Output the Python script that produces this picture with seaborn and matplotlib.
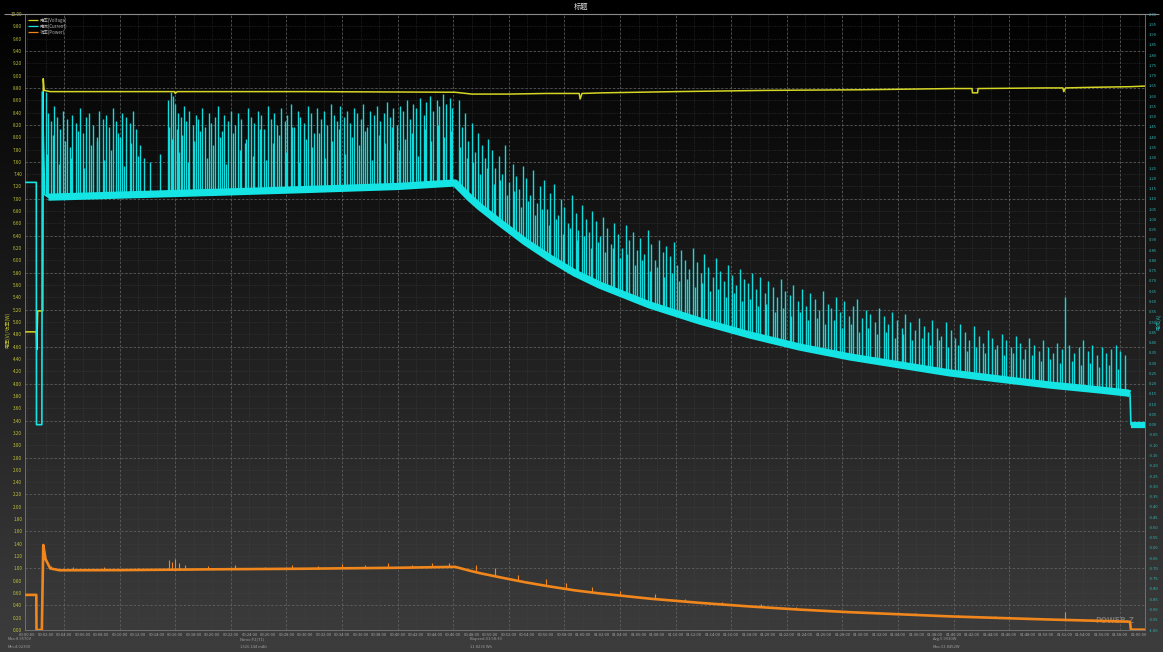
import numpy as np
import pandas as pd
import matplotlib
matplotlib.use("Agg")
import matplotlib.pyplot as plt
from matplotlib.lines import Line2D
from matplotlib.colors import LinearSegmentedColormap
import seaborn as sns

sns.set_theme(style="dark")
plt.rcParams['font.family'] = ['Noto Sans CJK SC', 'DejaVu Sans']
plt.rcParams['lines.solid_capstyle'] = 'butt'

# ---------------- data ----------------
title_text = "标题"
left_axis_label = "电压(V)/功率(W)"
right_axis_label = "电流(A)"
legend_labels = ["电压(Voltage)", "电流(Current)", "功率(Power)"]

# time in minutes
volt_t = [-0.2, 1.0, 1.05, 1.15, 1.70, 1.75, 1.85, 2.5, 10.0, 15.9,
          16.0, 16.2, 30.0, 46.2, 48.0, 52.0, 56.0, 59.6, 59.7, 59.9,
          62.0, 70.0, 80.0, 90.0, 100.0, 102.0, 102.05, 102.6, 102.65, 110.0,
          111.8, 111.9, 112.1, 115.0, 119.1, 120.7]
volt_v = [4.84, 4.84, 4.55, 5.18, 5.18, 8.95, 8.76, 8.74, 8.74, 8.74,
          8.71, 8.74, 8.74, 8.73, 8.70, 8.70, 8.71, 8.71, 8.62, 8.71,
          8.72, 8.74, 8.76, 8.77, 8.79, 8.79, 8.72, 8.72, 8.79, 8.80,
          8.80, 8.74, 8.80, 8.81, 8.82, 8.83]

curr_t = [-0.2, 1.0, 1.02, 1.6, 1.65, 1.9, 2.3, 10.0, 20.0, 30.0,
          40.0, 46.2, 47.8, 48.9, 51.1, 53.8, 56.4, 59.1, 61.8, 67.2,
          72.6, 78.0, 83.4, 88.8, 94.2, 99.6, 105.0, 110.4, 115.8, 118.8,
          119.05, 119.15, 120.7]
curr_a = [1.18, 1.18, 0.0, 0.0, 1.62, 1.12, 1.108, 1.118, 1.131, 1.145,
          1.160, 1.177, 1.104, 1.060, 0.982, 0.890, 0.812, 0.739, 0.680, 0.583,
          0.505, 0.437, 0.378, 0.330, 0.291, 0.252, 0.222, 0.193, 0.169, 0.154,
          0.150, 0.0, 0.0]

power_t = [-0.2, 1.0, 1.02, 1.6, 1.75, 2.0, 2.5, 3.5, 10.0, 20.0,
           30.0, 40.0, 46.2, 47.8, 48.9, 51.1, 53.8, 56.4, 59.1, 61.8,
           67.2, 72.6, 78.0, 83.4, 88.8, 94.2, 99.6, 105.0, 110.4, 115.8,
           118.8, 119.05, 119.15, 120.7]
power_w = [5.70, 5.70, 0.0, 0.0, 13.8, 11.5, 10.0, 9.70, 9.72, 9.85,
           9.95, 10.10, 10.25, 9.62, 9.22, 8.54, 7.74, 7.07, 6.44, 5.94,
           5.09, 4.41, 3.82, 3.31, 2.89, 2.55, 2.21, 1.95, 1.70, 1.48,
           1.36, 1.32, 0.05, 0.05]

# current spikes before the decay (time, peak A)
spike_pre_t = [2.0, 2.3, 2.6, 2.9, 3.2, 3.6, 3.9, 4.3, 4.6, 4.9,
               5.3, 5.7, 6.0, 6.4, 6.7, 7.1, 7.5, 7.8, 8.2, 8.5,
               8.9, 9.3, 9.6, 10.0, 10.3, 10.7, 11.1, 11.4, 11.8, 12.2,
               12.6, 13.3, 14.4, 15.2, 15.5, 15.8, 16.0, 16.3, 16.6, 16.9,
               17.2, 17.5, 17.9, 18.2, 18.5, 18.9, 19.2, 19.6, 19.9, 20.3,
               20.6, 21.0, 21.3, 21.7, 22.0, 22.4, 22.8, 23.1, 23.5, 23.8,
               24.2, 24.5, 24.9, 25.3, 25.6, 26.0, 26.3, 26.7, 27.0, 27.4,
               27.8, 28.1, 28.5, 28.8, 29.2, 29.5, 29.9, 30.3, 30.6, 31.0,
               31.3, 31.7, 32.0, 32.4, 32.8, 33.1, 33.5, 33.8, 34.2, 34.5,
               34.9, 35.3, 35.6, 36.0, 36.3, 36.7, 37.0, 37.4, 37.8, 38.1,
               38.5, 38.8, 39.2, 39.5, 39.9, 40.3, 40.6, 41.0, 41.3, 41.7,
               42.0, 42.4, 42.8, 43.1, 43.5, 43.8, 44.2, 44.5, 44.9, 45.2,
               45.6, 45.9]
spike_pre_a = [1.62, 1.52, 1.48, 1.55, 1.50, 1.44, 1.53, 1.49, 1.35, 1.51,
               1.47, 1.54, 1.42, 1.50, 1.52, 1.46, 1.38, 1.53, 1.49, 1.51,
               1.45, 1.54, 1.48, 1.40, 1.52, 1.50, 1.47, 1.53, 1.44, 1.36,
               1.30, 1.28, 1.32, 1.58, 1.62, 1.60, 1.56, 1.52, 1.50, 1.55,
               1.48, 1.53, 1.46, 1.51, 1.49, 1.54, 1.45, 1.52, 1.47, 1.50,
               1.55, 1.43, 1.51, 1.48, 1.53, 1.46, 1.52, 1.49, 1.37, 1.54,
               1.50, 1.47, 1.53, 1.51, 1.44, 1.55, 1.49, 1.52, 1.46, 1.54,
               1.48, 1.51, 1.56, 1.45, 1.53, 1.50, 1.47, 1.55, 1.52, 1.42,
               1.54, 1.49, 1.53, 1.46, 1.56, 1.51, 1.48, 1.55, 1.50, 1.53,
               1.47, 1.54, 1.52, 1.49, 1.56, 1.45, 1.53, 1.51, 1.55, 1.48,
               1.52, 1.57, 1.50, 1.54, 1.46, 1.55, 1.53, 1.58, 1.49, 1.56,
               1.54, 1.59, 1.51, 1.57, 1.60, 1.53, 1.58, 1.55, 1.61, 1.56,
               1.59, 1.54]
# shorter in-between spikes before the decay
spike_pre2_t = [2.15, 2.75, 3.4, 4.1, 4.75, 5.5, 6.2, 6.9, 7.6, 8.35,
                9.1, 9.8, 10.5, 11.25, 12.0, 15.35, 15.65, 16.15, 16.45, 16.75,
                17.35, 18.05, 18.7, 19.4, 20.1, 20.8, 21.5, 22.2, 22.95, 23.65,
                24.35, 25.1, 25.8, 26.5, 27.2, 27.95, 28.65, 29.35, 30.1, 30.8,
                31.5, 32.2, 32.95, 33.65, 34.35, 35.1, 35.8, 36.5, 37.2, 37.95,
                38.65, 39.35, 40.1, 40.8, 41.5, 42.2, 42.95, 43.65, 44.35, 45.05,
                45.75]
spike_pre2_a = [1.32, 1.41, 1.27, 1.38, 1.30, 1.43, 1.25, 1.36, 1.40, 1.29,
                1.34, 1.42, 1.26, 1.37, 1.31, 1.45, 1.39, 1.44, 1.33, 1.41,
                1.28, 1.38, 1.43, 1.30, 1.36, 1.40, 1.27, 1.42, 1.34, 1.39,
                1.31, 1.44, 1.29, 1.37, 1.41, 1.33, 1.45, 1.28, 1.39, 1.35,
                1.42, 1.30, 1.38, 1.44, 1.32, 1.40, 1.36, 1.43, 1.29, 1.41,
                1.37, 1.45, 1.34, 1.39, 1.42, 1.31, 1.44, 1.38, 1.46, 1.40,
                1.43]

# current spikes during the decay (time, peak A)
spike_post_t = [46.6, 46.9, 47.3, 47.6, 48.0, 48.3, 48.7, 49.1, 49.4, 49.8,
                50.2, 50.5, 50.9, 51.3, 51.6, 52.0, 52.4, 52.8, 53.1, 53.5,
                53.9, 54.3, 54.6, 55.0, 55.4, 55.8, 56.1, 56.5, 56.9, 57.3,
                57.6, 58.0, 58.4, 58.8, 59.2, 59.5, 59.9, 60.3, 60.7, 61.0,
                61.4, 61.8, 62.2, 62.6, 63.0, 63.4, 63.8, 64.2, 64.6, 65.0,
                65.4, 65.8, 66.2, 66.6, 67.0, 67.4, 67.8, 68.2, 68.6, 69.0,
                69.4, 69.8, 70.2, 70.6, 71.0, 71.4, 71.9, 72.3, 72.7, 73.1,
                73.5, 74.0, 74.4, 74.8, 75.2, 75.7, 76.1, 76.5, 77.0, 77.4,
                77.8, 78.3, 78.7, 79.1, 79.6, 80.0, 80.5, 80.9, 81.4, 81.8,
                82.3, 82.7, 83.2, 83.6, 84.1, 84.5, 85.0, 85.5, 85.9, 86.4,
                86.8, 87.3, 87.8, 88.2, 88.7, 89.2, 89.6, 90.1, 90.6, 91.0,
                91.5, 92.0, 92.5, 92.9, 93.4, 93.9, 94.4, 94.8, 95.3, 95.8,
                96.3, 96.8, 97.2, 97.7, 98.2, 98.7, 99.2, 99.7, 100.2, 100.7,
                101.2, 101.7, 102.2, 102.7, 103.2, 103.7, 104.2, 104.7, 105.2, 105.7,
                106.2, 106.7, 107.2, 107.7, 108.2, 108.7, 109.2, 109.7, 110.2, 110.7,
                111.2, 111.7, 112.0, 112.5, 113.0, 113.5, 114.0, 114.5, 115.0, 115.5,
                116.0, 116.5, 117.0, 117.5, 118.0, 118.5]
spike_post_a = [1.58, 1.45, 1.52, 1.38, 1.47, 1.33, 1.42, 1.36, 1.30, 1.39,
                1.34, 1.25, 1.31, 1.22, 1.36, 1.18, 1.27, 1.21, 1.15, 1.26,
                1.20, 1.12, 1.24, 1.08, 1.16, 1.19, 1.05, 1.13, 1.17, 1.02,
                1.10, 1.06, 0.98, 1.12, 1.03, 0.95, 1.07, 1.00, 0.94, 1.04,
                0.99, 0.92, 1.01, 0.96, 0.88, 0.98, 0.93, 0.86, 0.97, 0.90,
                0.94, 0.85, 0.91, 0.83, 0.95, 0.88, 0.80, 0.90, 0.84, 0.87,
                0.82, 0.89, 0.78, 0.85, 0.80, 0.76, 0.86, 0.79, 0.74, 0.83,
                0.77, 0.72, 0.81, 0.75, 0.70, 0.78, 0.73, 0.68, 0.76, 0.71,
                0.69, 0.74, 0.66, 0.72, 0.64, 0.70, 0.67, 0.62, 0.71, 0.65,
                0.63, 0.68, 0.60, 0.66, 0.58, 0.64, 0.61, 0.56, 0.65, 0.59,
                0.57, 0.62, 0.55, 0.60, 0.53, 0.58, 0.61, 0.52, 0.56, 0.54,
                0.50, 0.57, 0.53, 0.49, 0.55, 0.51, 0.47, 0.54, 0.50, 0.46,
                0.52, 0.48, 0.45, 0.51, 0.47, 0.43, 0.50, 0.46, 0.42, 0.49,
                0.45, 0.41, 0.48, 0.43, 0.40, 0.46, 0.42, 0.39, 0.44, 0.41,
                0.38, 0.43, 0.40, 0.37, 0.42, 0.39, 0.36, 0.41, 0.38, 0.35,
                0.40, 0.37, 0.62, 0.39, 0.35, 0.38, 0.41, 0.36, 0.39, 0.34,
                0.38, 0.35, 0.37, 0.39, 0.36, 0.34]
# shorter in-between spikes during the decay
spike_post2_t = [46.75, 47.45, 48.15, 48.9, 49.6, 50.35, 51.1,
                 51.8, 52.6, 53.3, 54.1, 54.8, 55.6, 56.3, 57.1, 57.8, 58.6,
                 59.35, 60.1, 60.85, 61.6, 62.4, 63.2, 64.0, 64.8, 65.6, 66.4,
                 67.2, 68.0, 68.8, 69.6, 70.4, 71.2, 72.1, 72.9, 73.75, 74.6,
                 75.45, 76.3, 77.2, 78.05, 78.9, 79.8, 80.7, 81.6, 82.5, 83.4,
                 84.3, 85.25, 86.15, 87.05, 88.0, 88.95, 89.85, 90.8, 91.75, 92.7,
                 93.65, 94.6, 95.55, 96.55, 97.45, 98.45, 99.45, 100.45, 101.45, 102.45,
                 103.45, 104.45, 105.45, 106.45, 107.45, 108.45, 109.45, 110.45, 111.45, 112.75,
                 113.75, 114.75, 115.75, 116.75, 117.75]
spike_post2_a = [1.35, 1.30, 1.28, 1.22, 1.25, 1.17, 1.19,
                 1.12, 1.14, 1.06, 1.09, 1.02, 1.05, 0.97, 1.00, 0.93, 0.96,
                 0.90, 0.92, 0.86, 0.89, 0.84, 0.86, 0.81, 0.83, 0.78, 0.80,
                 0.75, 0.77, 0.72, 0.74, 0.70, 0.71, 0.67, 0.69, 0.65, 0.66,
                 0.62, 0.64, 0.60, 0.61, 0.58, 0.59, 0.55, 0.57, 0.53, 0.55,
                 0.51, 0.52, 0.49, 0.51, 0.47, 0.49, 0.45, 0.47, 0.44, 0.45,
                 0.42, 0.44, 0.41, 0.42, 0.39, 0.41, 0.38, 0.39, 0.36, 0.38,
                 0.35, 0.37, 0.34, 0.35, 0.32, 0.34, 0.31, 0.32, 0.30, 0.31,
                 0.29, 0.30, 0.28, 0.29, 0.27]

# power spikes (time, peak W)
pspike_t = [2.6, 5.0, 8.3, 12.0, 15.3, 15.6, 16.0, 16.4, 17.0, 19.5,
            22.5, 25.7, 28.6, 31.4, 34.0, 36.5, 39.0, 41.5, 43.7, 45.5,
            48.5, 50.5, 53.0, 56.0, 58.2, 61.0, 64.0, 67.8, 71.0, 75.0,
            79.2, 83.0, 87.0, 91.5, 95.8, 100.5, 104.5, 108.5, 112.0, 115.0,
            117.8]
pspike_w = [10.4, 10.2, 10.3, 10.1, 11.3, 11.0, 11.5, 10.9, 10.6, 10.4,
            10.5, 10.3, 10.6, 10.4, 10.7, 10.5, 10.8, 10.6, 10.9, 10.8,
            10.6, 10.0, 9.0, 8.3, 7.6, 7.0, 6.3, 5.8, 5.1, 4.6,
            4.2, 3.7, 3.3, 2.9, 2.7, 2.4, 2.2, 2.0, 2.9, 1.8,
            1.7]

x_tick_minutes = list(range(0, 121, 2))
x_tick_labels = ["%02d:%02d:00" % (m // 60, m % 60) for m in x_tick_minutes]
left_ticks = [round(0.2 * i, 2) for i in range(51)]
right_ticks = [round(-1.0 + 0.05 * i, 2) for i in range(61)]

info_texts = [("Max:8.9570V", "Min:4.0230V"),
              ("Name:P2(T1)", "1326.144 mAh"),
              ("Elapsed:01:58:30", "11.8236 Wh"),
              ("Avg:5.9930W", "Max:13.8452W")]

# ---------------- styling ----------------
W, H = 1163, 652
fig = plt.figure(figsize=(W / 100, H / 100), dpi=100)

bg_cmap = LinearSegmentedColormap.from_list("bg", ["#000000", "#141414", "#282828", "#3d3d3d"])
bg = fig.add_axes([0, 0, 1, 1])
bg.imshow(np.linspace(0, 1, 256)[:, None], aspect='auto', cmap=bg_cmap,
          extent=[0, 1, 0, 1], origin='upper')
bg.set_axis_off()
bg.set_zorder(-5)

L, R, T, B = 25, 1145, 14, 630
ax = fig.add_axes([L / W, 1 - B / H, (R - L) / W, (B - T) / H])
ax.set_facecolor('none')
XMIN, XMAX = -0.22, 120.67

YEL = "#d6d624"
CYA = "#14e4e4"
ORA = "#f0861c"

# grid
for v in left_ticks:
    ax.axhline(v, color="#4a4a4a", lw=0.4, ls=(0, (1, 2)), zorder=0.2)
for k in range(16):
    ax.axhline(9.4 - 0.6 * k, color="#6a6a6a", lw=0.5, ls=(0, (3, 3)), zorder=0.3)
for m in x_tick_minutes:
    ax.axvline(m, color="#4a4a4a", lw=0.4, ls=(0, (1, 2)), zorder=0.2)
for m in range(4, 121, 6):
    ax.axvline(m, color="#6a6a6a", lw=0.5, ls=(0, (3, 3)), zorder=0.3)

# voltage on left axis
dfv = pd.DataFrame({"t": volt_t, "v": volt_v})
sns.lineplot(data=dfv, x="t", y="v", ax=ax, sort=False, estimator=None,
             color=YEL, linewidth=1.1, zorder=3)

# current on right axis
ax2 = ax.twinx()
def spikes(tl, al):
    n = min(len(tl), len(al))
    return list(tl[:n]), list(al[:n])
t1, a1 = spikes(spike_pre_t, spike_pre_a)
t2, a2 = spikes(spike_pre2_t, spike_pre2_a)
t3, a3 = spikes(spike_post_t, spike_post_a)
t4, a4 = spikes(spike_post2_t, spike_post2_a)
st = np.array(t1 + t2 + t3 + t4)
sp = np.array(a1 + a2 + a3 + a4)
base = np.interp(st, curr_t, curr_a)
ax2.vlines(st, base, sp, colors="#0fdcdc", lw=1.0, zorder=2)

dfc = pd.DataFrame({"t": curr_t, "a": curr_a})
sns.lineplot(data=dfc, x="t", y="a", ax=ax2, sort=False, estimator=None,
             color=CYA, linewidth=1.2, zorder=3)
band = dfc[(dfc.t >= 2.3) & (dfc.t <= 119.05)]
sns.lineplot(data=band, x="t", y="a", ax=ax2, sort=False, estimator=None,
             color=CYA, linewidth=5.2, zorder=4)
tail = dfc[dfc.t >= 119.15]
sns.lineplot(data=tail, x="t", y="a", ax=ax2, sort=False, estimator=None,
             color=CYA, linewidth=4.5, zorder=4)

# power on hidden 0-100 axis
ax3 = ax.twinx()
dfp = pd.DataFrame({"t": power_t, "w": power_w})
pst = np.array(pspike_t)
pbase = np.interp(pst, power_t, power_w)
ax3.vlines(pst, pbase, pspike_w, colors=ORA, lw=0.8, zorder=3)
sns.lineplot(data=dfp, x="t", y="w", ax=ax3, sort=False, estimator=None,
             color=ORA, linewidth=1.9, zorder=4)

# axes limits & ticks
for a in (ax, ax2, ax3):
    a.set_xlim(XMIN, XMAX)
    a.set_xlabel("")
    a.set_ylabel("")
    a.grid(False)
ax.set_ylim(0, 10)
ax2.set_ylim(-1, 2)
ax3.set_ylim(0, 100)
ax3.set_axis_off()

ax.set_yticks(left_ticks)
ax.set_yticklabels(["%.2f" % v for v in left_ticks])
ax.tick_params(axis='y', labelsize=3.3, colors="#c4c43a", length=0, pad=2)
ax.set_xticks(x_tick_minutes)
ax.set_xticklabels(x_tick_labels)
ax.tick_params(axis='x', labelsize=2.9, colors="#a6a6a6", length=1.5, width=0.4, pad=1)

ax2.set_yticks(right_ticks)
ax2.set_yticklabels(["%.2f" % v for v in right_ticks])
ax2.tick_params(axis='y', labelsize=3.0, colors="#2cb6b6", length=0, pad=3)

for a in (ax, ax2):
    for s in a.spines.values():
        s.set_color("#7a7a7a")
        s.set_linewidth(0.6)
for s in ax2.spines.values():
    s.set_visible(False)

# legend
handles = [Line2D([], [], color=YEL, lw=0.9),
           Line2D([], [], color=CYA, lw=0.9),
           Line2D([], [], color=ORA, lw=0.9)]
leg = ax.legend(handles, legend_labels, loc="upper left", bbox_to_anchor=(0.0, 1.0),
                fontsize=3.2, frameon=False, handlelength=2.2, handletextpad=0.4,
                labelspacing=0.15, borderaxespad=0.3)
for t in leg.get_texts():
    t.set_color("#b4b4b4")

# texts
fig.text(0.5, 1 - 7 / H, title_text, ha="center", va="center", fontsize=5.2, color="#dcdcdc")
fig.add_artist(Line2D([4 / W, 1159 / W], [1 - 14 / H] * 2, color="#8a8a8a", lw=0.8))
fig.text(8 / W, 1 - 330 / H, left_axis_label, rotation=90, ha="center", va="center",
         fontsize=3.6, color="#c4c43a")
fig.text(1159 / W, 1 - 322 / H, right_axis_label, rotation=90, ha="center", va="center",
         fontsize=3.6, color="#2cb6b6")
for (l1, l2), xp in zip(info_texts, [8, 240, 470, 933]):
    fig.text(xp / W, 1 - 639 / H, l1, ha="left", va="center", fontsize=3.0, color="#9a9a9a")
    fig.text(xp / W, 1 - 647 / H, l2, ha="left", va="center", fontsize=3.0, color="#9a9a9a")
ax.text(0.99, 0.008, "POWER-Z", transform=ax.transAxes, ha="right", va="bottom",
        fontsize=6, color="white", alpha=0.3, fontweight="bold", zorder=6)

fig.savefig("out.png", dpi=100)
